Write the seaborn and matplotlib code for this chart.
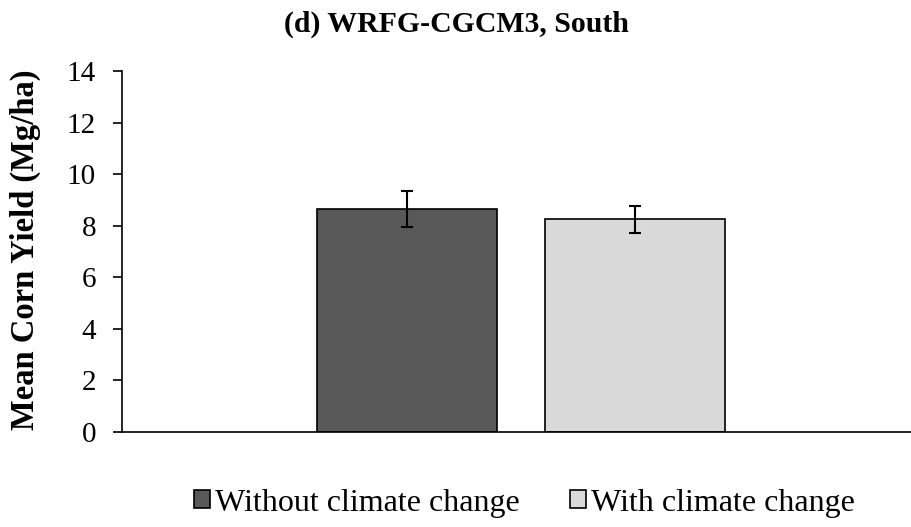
import matplotlib
matplotlib.use("Agg")
import matplotlib.pyplot as plt
import seaborn as sns
import pandas as pd

# Data
category = ["South"]
series = ["Without climate change", "With climate change"]
means = [8.64, 8.24]
errors = [0.71, 0.53]
colors = ["#595959", "#d9d9d9"]
yticks = [0, 2, 4, 6, 8, 10, 12, 14]

df = pd.DataFrame({"cat": category * len(series), "series": series, "yield": means})

sns.set_theme(style="white")
plt.rcParams["font.family"] = ["Liberation Serif", "DejaVu Serif"]
plt.rcParams["text.color"] = "black"
plt.rcParams["ytick.color"] = "black"
plt.rcParams["axes.labelcolor"] = "black"

W, H = 911, 527
fig = plt.figure(figsize=(W / 100, H / 100), dpi=100)
left, right, top, bottom = 121.7, 920.0, 71.0, 431.7
ax = fig.add_axes([left / W, 1 - bottom / H, (right - left) / W, (bottom - top) / H])

sns.barplot(data=df, x="cat", y="yield", hue="series", hue_order=series,
            palette=colors, width=0.572, gap=0.211, errorbar=None,
            edgecolor="black", linewidth=1.2, ax=ax, legend=True, saturation=1)

# error bars at bar centres
for p, m, e in zip(ax.patches[:len(series)], means, errors):
    xc = p.get_x() + p.get_width() / 2
    ax.errorbar(xc, m, yerr=e, fmt="none", ecolor="black", elinewidth=1.5,
                capsize=4.3, capthick=1.5)

ax.set_xlim(-0.5, 0.5)
ax.set_ylim(0, 14)
ax.set_yticks(yticks)
ax.set_yticklabels([str(t) for t in yticks], fontsize=21)
ax.set_xticks([])
ax.set_xlabel("")
ax.set_ylabel("")
ax.tick_params(axis="y", left=True, length=6.5, width=1.2, color="black", pad=12)
for s in ["top", "right"]:
    ax.spines[s].set_visible(False)
for s in ["left", "bottom"]:
    ax.spines[s].set_color("black")
    ax.spines[s].set_linewidth(1.2)

fig.text(25 / W, 1 - 250 / H, "Mean Corn Yield (Mg/ha)", rotation=90,
         ha="center", va="center", fontsize=23.5, fontweight="bold")
fig.text(456 / W, 1 - 32 / H, "(d) WRFG-CGCM3, South", ha="center",
         va="baseline", fontsize=21.4, fontweight="bold")

ax.get_legend().remove()
handles, labels = ax.get_legend_handles_labels()
fig.legend(handles[:2], labels[:2], loc="center", bbox_to_anchor=(524.5 / W, 1 - 503 / H),
           ncol=2, frameon=False, fontsize=23, handlelength=0.5, handleheight=0.5,
           handletextpad=0.16, columnspacing=1.57, borderpad=0, borderaxespad=0)

fig.savefig("out.png", dpi=100)
